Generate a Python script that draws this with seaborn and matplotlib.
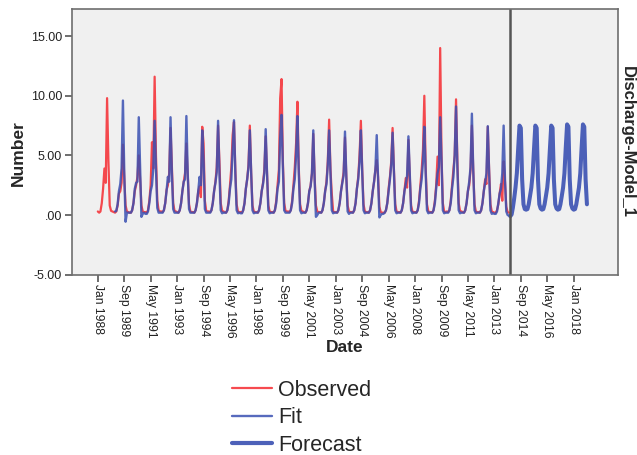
import numpy as np
import pandas as pd
import matplotlib
matplotlib.use("Agg")
import matplotlib.pyplot as plt
import seaborn as sns
from matplotlib.lines import Line2D

# ---------------- data (monthly) ----------------
obs_start = "1988-01-01"
observed_rows = [
    [0.30, 0.20, 0.30, 1.00, 2.20, 3.90, 2.70, 9.80, 4.50, 0.80, 0.35, 0.30],   # 1988
    [0.25, 0.20, 0.30, 0.80, 1.80, 2.00, 2.70, 5.90, 3.10, 0.80, 0.30, 0.25],   # 1989
    [0.20, 0.20, 0.40, 1.00, 2.00, 2.50, 3.20, 5.00, 3.00, 0.80, 0.30, 0.25],   # 1990
    [0.25, 0.20, 0.40, 1.20, 2.50, 6.10, 3.90, 11.60, 5.00, 1.20, 0.40, 0.30],  # 1991
    [0.30, 0.25, 0.40, 1.00, 2.10, 2.50, 3.50, 7.30, 4.00, 1.00, 0.35, 0.30],   # 1992
    [0.25, 0.20, 0.40, 1.00, 2.00, 2.80, 3.50, 6.00, 3.50, 0.90, 0.30, 0.25],   # 1993
    [0.25, 0.20, 0.40, 1.00, 2.00, 2.40, 1.50, 7.40, 6.00, 1.20, 0.35, 0.30],   # 1994
    [0.30, 0.25, 0.40, 1.00, 2.00, 2.80, 4.00, 7.50, 4.50, 1.00, 0.35, 0.30],   # 1995
    [0.25, 0.20, 0.40, 1.20, 2.50, 4.00, 6.70, 7.80, 3.80, 0.90, 0.30, 0.25],   # 1996
    [0.25, 0.20, 0.40, 1.00, 2.20, 3.00, 4.20, 7.50, 3.50, 0.80, 0.30, 0.25],   # 1997
    [0.25, 0.20, 0.40, 1.00, 2.00, 2.70, 3.80, 6.60, 3.50, 0.80, 0.30, 0.25],   # 1998
    [0.25, 0.20, 0.40, 1.20, 2.50, 3.80, 9.80, 11.40, 4.50, 1.00, 0.35, 0.30],  # 1999
    [0.30, 0.25, 0.40, 1.20, 2.50, 4.00, 6.00, 9.50, 4.00, 0.90, 0.35, 0.30],   # 2000
    [0.25, 0.20, 0.40, 1.00, 2.00, 2.50, 3.50, 6.80, 3.20, 0.80, 0.30, 0.25],   # 2001
    [0.25, 0.20, 0.40, 1.00, 2.00, 2.80, 4.50, 8.00, 3.80, 1.80, 0.30, 0.25],   # 2002
    [0.25, 0.20, 0.40, 1.00, 2.00, 2.80, 3.60, 6.50, 3.20, 0.80, 0.30, 0.25],   # 2003
    [0.25, 0.20, 0.40, 1.00, 2.20, 3.20, 5.00, 7.90, 3.80, 0.90, 0.30, 0.25],   # 2004
    [0.25, 0.20, 0.40, 1.00, 2.00, 2.80, 3.80, 4.60, 3.20, 0.70, 0.25, 0.20],   # 2005
    [0.20, 0.20, 0.40, 1.00, 2.20, 3.20, 4.50, 7.30, 3.80, 0.90, 0.30, 0.25],   # 2006
    [0.25, 0.20, 0.40, 1.00, 2.00, 3.10, 2.30, 6.30, 3.20, 0.80, 0.30, 0.25],   # 2007
    [0.25, 0.20, 0.40, 1.20, 2.50, 3.80, 5.50, 10.00, 4.00, 0.90, 0.30, 0.25],  # 2008
    [0.25, 0.20, 0.40, 1.20, 2.50, 4.90, 2.50, 14.00, 5.00, 1.00, 0.30, 0.25],  # 2009
    [0.30, 0.25, 0.40, 1.20, 2.50, 3.80, 5.00, 9.70, 4.50, 1.00, 0.35, 0.30],   # 2010
    [0.25, 0.20, 0.40, 1.00, 2.00, 2.50, 3.80, 7.50, 3.80, 0.90, 0.30, 0.25],   # 2011
    [0.25, 0.20, 0.40, 1.00, 2.00, 3.00, 2.60, 7.40, 3.80, 0.90, 0.30, 0.25],   # 2012
    [0.20, 0.20, 0.40, 0.90, 1.80, 2.60, 1.20, 4.50, 2.80, 0.70, 0.25, 0.20],   # 2013
]

fit_start = "1989-02-01"
fit_rows = [
    [0.30, 0.35, 0.90, 2.00, 2.60, 3.90, 9.60, 3.50, -0.56, 0.20, 0.20],        # 1989 (Feb-Dec)
    [0.20, 0.20, 0.40, 1.00, 2.20, 2.70, 2.80, 8.20, 3.80, -0.15, 0.10, 0.20],  # 1990
    [0.10, 0.10, 0.30, 1.00, 2.00, 2.50, 3.90, 7.90, 3.80, 0.60, 0.20, 0.20],   # 1991
    [0.20, 0.20, 0.40, 1.00, 2.00, 3.20, 2.80, 8.20, 3.50, 0.50, 0.20, 0.20],   # 1992
    [0.20, 0.20, 0.40, 1.00, 2.00, 2.80, 3.00, 8.30, 3.50, 0.50, 0.20, 0.20],   # 1993
    [0.20, 0.20, 0.40, 1.00, 2.00, 3.20, 2.50, 7.10, 4.50, 0.50, 0.20, 0.20],   # 1994
    [0.20, 0.20, 0.40, 1.00, 2.00, 2.70, 3.60, 7.90, 3.50, 0.40, 0.15, 0.20],   # 1995
    [0.20, 0.20, 0.40, 1.00, 2.20, 3.00, 5.50, 7.95, 3.50, 0.40, 0.15, 0.20],   # 1996
    [0.15, 0.15, 0.40, 1.00, 2.20, 3.00, 4.00, 7.10, 3.50, 0.40, 0.15, 0.20],   # 1997
    [0.20, 0.20, 0.40, 1.00, 2.00, 2.60, 3.50, 7.20, 3.50, 0.40, 0.15, 0.20],   # 1998
    [0.20, 0.20, 0.40, 1.00, 2.20, 2.80, 6.50, 8.40, 4.00, 0.40, 0.20, 0.20],   # 1999
    [0.20, 0.20, 0.40, 1.00, 2.20, 3.00, 5.00, 8.30, 3.50, 0.40, 0.15, 0.20],   # 2000
    [0.20, 0.20, 0.40, 1.00, 2.00, 2.40, 3.50, 7.10, 3.00, -0.15, 0.00, 0.20],  # 2001
    [0.20, 0.20, 0.40, 1.00, 2.00, 2.60, 4.20, 7.10, 3.50, 0.40, 0.15, 0.20],   # 2002
    [0.20, 0.20, 0.40, 1.00, 2.00, 2.70, 3.30, 7.00, 3.20, 0.30, 0.10, 0.20],   # 2003
    [0.20, 0.20, 0.40, 1.00, 2.20, 3.00, 4.50, 7.10, 3.50, 0.40, 0.15, 0.20],   # 2004
    [0.20, 0.20, 0.40, 1.00, 2.00, 2.80, 3.80, 6.70, 3.00, -0.20, 0.00, 0.10],  # 2005
    [0.10, 0.20, 0.40, 1.00, 2.00, 3.00, 4.20, 6.90, 3.50, 0.40, 0.15, 0.20],   # 2006
    [0.20, 0.20, 0.40, 1.00, 2.00, 2.60, 3.30, 6.60, 3.50, 0.40, 0.15, 0.20],   # 2007
    [0.20, 0.20, 0.40, 1.00, 2.20, 3.00, 4.50, 7.40, 3.50, 0.40, 0.15, 0.20],   # 2008
    [0.20, 0.20, 0.40, 1.00, 2.20, 3.50, 4.00, 8.20, 4.50, 0.40, 0.15, 0.20],   # 2009
    [0.20, 0.20, 0.40, 1.00, 2.20, 3.20, 5.00, 9.10, 4.00, 0.40, 0.15, 0.20],   # 2010
    [0.20, 0.20, 0.40, 1.00, 2.00, 2.80, 4.00, 8.50, 3.80, 0.40, 0.15, 0.20],   # 2011
    [0.20, 0.20, 0.40, 1.00, 2.00, 2.70, 3.50, 7.45, 3.50, 0.40, 0.10, 0.15],   # 2012
    [0.10, 0.10, 0.30, 1.00, 1.80, 2.20, 3.50, 7.50, 3.00, 0.30, 0.00, -0.05],  # 2013
]

forecast_start = "2014-01-01"
forecast_rows = [
    [-0.10, 0.05, 0.60, 1.40, 2.30, 3.50, 5.50, 7.50, 7.30, 3.00, 0.90, 0.50],  # 2014
    [0.45, 0.50, 0.90, 1.60, 2.30, 3.50, 5.50, 7.50, 7.30, 3.00, 0.90, 0.55],   # 2015
    [0.45, 0.50, 0.90, 1.60, 2.30, 3.50, 5.50, 7.50, 7.30, 3.00, 0.90, 0.55],   # 2016
    [0.45, 0.50, 0.90, 1.60, 2.30, 3.50, 5.60, 7.60, 7.40, 3.00, 0.90, 0.55],   # 2017
    [0.45, 0.50, 0.90, 1.60, 2.30, 3.50, 5.60, 7.60, 7.40, 3.00, 0.90],         # 2018 (Jan-Nov)
]

series_names = ["Observed", "Fit", "Forecast"]
xtick_start, xtick_end = "1988-01-01", "2018-01-01"
ytick_values = [-5, 0, 5, 10, 15]
ytick_labels = ["-5.00", ".00", "5.00", "10.00", "15.00"]
side_label = "Discharge-Model_1"

# ---------------- build frames ----------------
def to_frame(rows, start, name):
    vals = [v for r in rows for v in r]
    dates = pd.date_range(start, periods=len(vals), freq="MS")
    return pd.DataFrame({"Date": dates, "Number": vals, "Series": name})

df_obs = to_frame(observed_rows, obs_start, series_names[0])
df_fit = to_frame(fit_rows, fit_start, series_names[1])
df_fc = to_frame(forecast_rows, forecast_start, series_names[2])

# ---------------- style ----------------
sns.set_theme(style="white")
plt.rcParams["font.family"] = ["Liberation Sans", "DejaVu Sans"]

RED = "#F52A30"
BLUE = "#3A50B2"

fig = plt.figure(figsize=(6.37, 4.55), dpi=100)
ax = fig.add_axes([0.1126, 0.3963, 0.857, 0.5833])
ax.set_facecolor("#F0F0F0")

sns.lineplot(data=df_obs, x="Date", y="Number", ax=ax, color=RED, lw=1.6, alpha=0.85, legend=False)
sns.lineplot(data=df_fit, x="Date", y="Number", ax=ax, color=BLUE, lw=1.7, alpha=0.85, legend=False)
sns.lineplot(data=df_fc, x="Date", y="Number", ax=ax, color=BLUE, lw=2.9, alpha=0.9, legend=False)

ax.axvline(pd.Timestamp(forecast_start), color="#555555", lw=1.8)

ax.set_xlim(pd.Timestamp("1986-05-10"), pd.Timestamp("2020-10-08"))
ax.set_ylim(-5, 17.25)

xt = pd.date_range(xtick_start, xtick_end, freq="20MS")
ax.set_xticks(xt)
ax.set_xticklabels([d.strftime("%b %Y") for d in xt], rotation=270, fontsize=8.7,
                   ha="center", va="top")
ax.set_yticks(ytick_values)
ax.set_yticklabels(ytick_labels, fontsize=9)
ax.tick_params(axis="both", direction="out", length=5, width=1.2, color="#555555",
               pad=2, labelcolor="#222222", bottom=True, left=True)

for s in ax.spines.values():
    s.set_color("#6E6E6E")
    s.set_linewidth(1.2)

ax.set_xlabel("")
ax.set_ylabel("")
fig.text(18 / 637, 1 - 153 / 455, "Number", rotation=90, fontsize=12.5, fontweight="bold",
         ha="center", va="center")
fig.text(345 / 637, 1 - 348 / 455, "Date", fontsize=12.5, fontweight="bold",
         ha="center", va="center")
fig.text(627 / 637, 1 - 142 / 455, side_label, rotation=270, fontsize=12, fontweight="bold",
         ha="center", va="center")

handles = [
    Line2D([], [], color=RED, lw=1.6, alpha=0.85),
    Line2D([], [], color=BLUE, lw=1.7, alpha=0.85),
    Line2D([], [], color=BLUE, lw=3.0, alpha=0.9),
]
fig.legend(handles, series_names, loc="upper left", bbox_to_anchor=(232 / 637, 1 - 380 / 455),
           frameon=False, fontsize=15.5, handlelength=1.85, handletextpad=0.28,
           labelspacing=0.3, borderpad=0, borderaxespad=0)

fig.savefig("out.png", dpi=100, facecolor="white")
